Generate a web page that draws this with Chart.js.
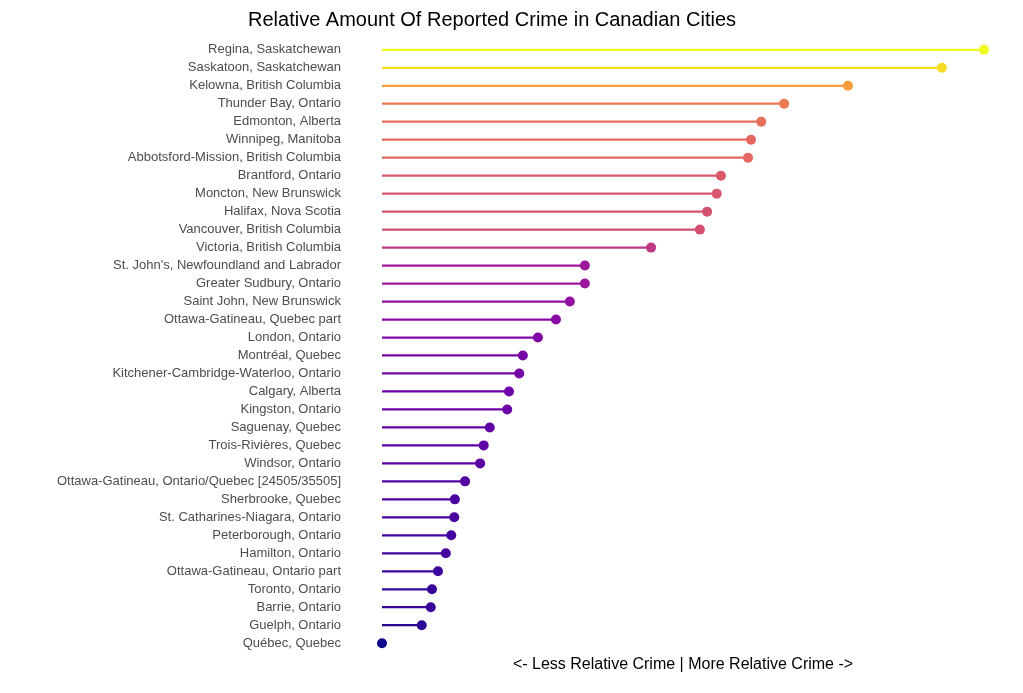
<!DOCTYPE html>
<html>
<head>
<meta charset="utf-8">
<script src="https://cdn.jsdelivr.net/npm/chart.js@4"></script>
<style>
  html, body { margin: 0; padding: 0; background: #fff; }
  #wrap { width: 1023px; height: 693px; }
</style>
</head>
<body>
<div id="wrap"><canvas id="grafico"></canvas></div>
<script>
// Cities (top to bottom) and relative crime values
const cidades = [
  'Regina, Saskatchewan', 'Saskatoon, Saskatchewan', 'Kelowna, British Columbia',
  'Thunder Bay, Ontario', 'Edmonton, Alberta', 'Winnipeg, Manitoba',
  'Abbotsford-Mission, British Columbia', 'Brantford, Ontario', 'Moncton, New Brunswick',
  'Halifax, Nova Scotia', 'Vancouver, British Columbia', 'Victoria, British Columbia',
  "St. John's, Newfoundland and Labrador", 'Greater Sudbury, Ontario', 'Saint John, New Brunswick',
  'Ottawa-Gatineau, Quebec part', 'London, Ontario', 'Montréal, Quebec',
  'Kitchener-Cambridge-Waterloo, Ontario', 'Calgary, Alberta', 'Kingston, Ontario',
  'Saguenay, Quebec', 'Trois-Rivières, Quebec', 'Windsor, Ontario',
  'Ottawa-Gatineau, Ontario/Quebec [24505/35505]', 'Sherbrooke, Quebec', 'St. Catharines-Niagara, Ontario',
  'Peterborough, Ontario', 'Hamilton, Ontario', 'Ottawa-Gatineau, Ontario part',
  'Toronto, Ontario', 'Barrie, Ontario', 'Guelph, Ontario', 'Québec, Quebec'
];
const valores = [
  100, 93.0, 77.4, 66.8, 63.0, 61.3, 60.8, 56.3, 55.6, 54.0, 52.8, 44.7,
  33.7, 33.7, 31.2, 28.9, 25.9, 23.4, 22.8, 21.1, 20.8, 17.9, 16.9, 16.3,
  13.8, 12.1, 12.0, 11.5, 10.6, 9.3, 8.3, 8.1, 6.6, 0
];

// plasma colour map
const plasma = ['#0d0887', '#41049d', '#6a00a8', '#8f0da4', '#b12a90', '#cc4778',
  '#e16462', '#f2844b', '#fca636', '#fcce25', '#f0f921'];
function hex(h) { return [1, 3, 5].map(i => parseInt(h.substr(i, 2), 16)); }
function corPlasma(t) {
  const p = Math.min(Math.max(t, 0), 1) * 10;
  const i = Math.min(Math.floor(p), 9);
  const f = p - i;
  const a = hex(plasma[i]), b = hex(plasma[i + 1]);
  const c = a.map((v, k) => Math.round(v + (b[k] - v) * f));
  return `rgb(${c[0]},${c[1]},${c[2]})`;
}
const cores = valores.map(v => corPlasma(v / 100));

const ctx = document.getElementById('grafico').getContext('2d');
new Chart(ctx, {
  data: {
    labels: cidades,
    datasets: [{
      type: 'bar',
      data: valores.map(v => [0, v]),
      backgroundColor: cores,
      barThickness: 1.6,
      order: 2
    }, {
      type: 'line',
      data: valores,
      showLine: false,
      pointRadius: 5,
      pointHoverRadius: 5,
      pointBackgroundColor: cores,
      pointBorderWidth: 0,
      clip: false,
      order: 1
    }]
  },
  options: {
    indexAxis: 'y',
    responsive: true,
    maintainAspectRatio: false,
    animation: false,
    layout: { padding: { left: 0, right: 39, top: -10, bottom: 0 } },
    plugins: {
      legend: { display: false },
      tooltip: { enabled: false },
      title: {
        display: true,
        text: 'Relative Amount Of Reported Crime in Canadian Cities',
        color: '#000',
        font: { family: 'Liberation Sans', size: 20, weight: 'normal' },
        padding: { top: 5, bottom: 8 }
      }
    },
    scales: {
      x: {
        min: 0, max: 100,
        grid: { display: false },
        border: { display: false },
        ticks: { display: false },
        title: {
          display: true,
          text: '<- Less Relative Crime | More Relative Crime ->',
          color: '#000',
          font: { family: 'Liberation Sans', size: 16 },
          padding: { top: 0, bottom: 10 }
        },
        afterFit: s => { s.height = 32; }
      },
      y: {
        grid: { display: false },
        border: { display: false },
        ticks: {
          color: '#4d4d4d',
          padding: 33,
          autoSkip: false,
          font: { family: 'Liberation Sans', size: 13 }
        },
        afterFit: s => { s.width = 382; }
      }
    }
  }
});
</script>
</body>
</html>
